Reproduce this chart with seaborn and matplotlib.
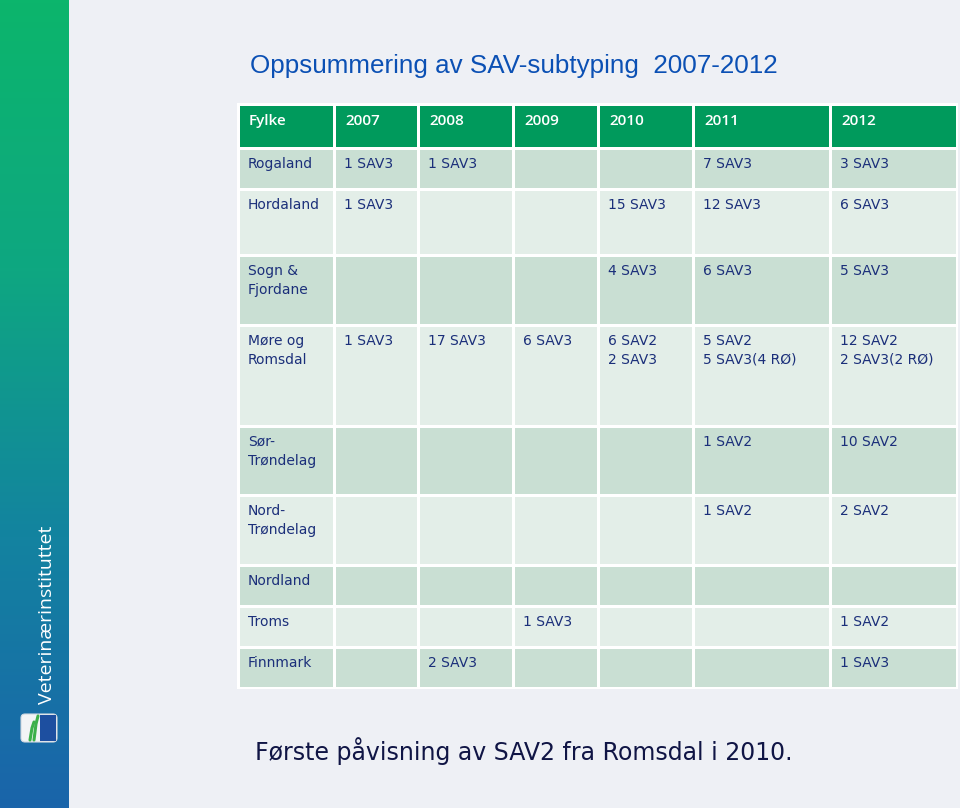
import numpy as np
import matplotlib
matplotlib.use("Agg")
import matplotlib.pyplot as plt
import seaborn as sns
from matplotlib.patches import Rectangle, FancyBboxPatch

sns.set_theme(style="white")
plt.rcParams['font.family'] = ['DejaVu Sans']

# table content
header = ["Fylke", "2007", "2008", "2009", "2010", "2011", "2012"]
fylke = ["Rogaland", "Hordaland", "Sogn &\nFjordane", "Møre og\nRomsdal", "Sør-\nTrøndelag",
         "Nord-\nTrøndelag", "Nordland", "Troms", "Finnmark"]
rogaland = ["1 SAV3", "1 SAV3", "", "", "7 SAV3", "3 SAV3"]
hordaland = ["1 SAV3", "", "", "15 SAV3", "12 SAV3", "6 SAV3"]
sogn_fjordane = ["", "", "", "4 SAV3", "6 SAV3", "5 SAV3"]
more_romsdal = ["1 SAV3", "17 SAV3", "6 SAV3", "6 SAV2\n2 SAV3", "5 SAV2\n5 SAV3(4 RØ)", "12 SAV2\n2 SAV3(2 RØ)"]
sor_trondelag = ["", "", "", "", "1 SAV2", "10 SAV2"]
nord_trondelag = ["", "", "", "", "1 SAV2", "2 SAV2"]
nordland = ["", "", "", "", "", ""]
troms = ["", "", "1 SAV3", "", "", "1 SAV2"]
finnmark = ["", "2 SAV3", "", "", "", "1 SAV3"]
rows = [rogaland, hordaland, sogn_fjordane, more_romsdal, sor_trondelag,
        nord_trondelag, nordland, troms, finnmark]

title = "Oppsummering av SAV-subtyping  2007-2012"
note = "Første påvisning av SAV2 fra Romsdal i 2010."

# layout (pixels)
col_edges = [238, 334, 418, 513, 598, 693, 830, 957]
row_edges = [104, 148, 189, 255, 325, 426, 495, 565, 606, 647, 688]

bg = "#eef0f5"
head_col = "#009a5c"
dark_row = "#c9dfd3"
light_row = "#e3eee8"
txt_col = "#1b2f7a"

fig = plt.figure(figsize=(9.6, 8.08), dpi=100)
fig.patch.set_facecolor(bg)
ax = fig.add_axes([0, 0, 1, 1])
ax.set_xlim(0, 960)
ax.set_ylim(808, 0)
ax.axis("off")

# sidebar gradient
grad = np.linspace(0, 1, 256)[:, None]
cmap = matplotlib.colors.LinearSegmentedColormap.from_list(
    "side", ["#0cb56c", "#0ea781", "#1383a0", "#1a64aa"])
ax.imshow(grad, extent=[0, 69, 808, 0], cmap=cmap, aspect="auto", zorder=0)
ax.text(47, 615, "Veterinærinstituttet", rotation=90, color="white", fontsize=14,
        ha="center", va="center", family=["Open Sans", "DejaVu Sans"])
ax.add_patch(FancyBboxPatch((21, 714), 36, 28, boxstyle="round,pad=0,rounding_size=4",
                            fc="#f2f4f6", ec="#d0d8e0", lw=0.8, zorder=2))
ax.add_patch(Rectangle((40, 715), 16, 26, fc="#1d4fa0", ec="none", zorder=3))
ax.plot([34, 36, 38], [740, 724, 716], color="#3cb04a", lw=2.2, zorder=4)
ax.plot([30, 32, 34], [740, 728, 722], color="#3cb04a", lw=2.2, zorder=4)

# table background (white grid)
ax.add_patch(Rectangle((col_edges[0] - 1, row_edges[0] - 1), col_edges[-1] - col_edges[0] + 2,
                       row_edges[-1] - row_edges[0] + 2, fc="white", ec="none", zorder=1))
g = 1.5
for r in range(len(row_edges) - 1):
    y0, y1 = row_edges[r], row_edges[r + 1]
    if r == 0:
        fc = head_col
    else:
        fc = dark_row if r % 2 == 1 else light_row
    for c in range(len(col_edges) - 1):
        x0, x1 = col_edges[c], col_edges[c + 1]
        ax.add_patch(Rectangle((x0 + g, y0 + g), x1 - x0 - 2 * g, y1 - y0 - 2 * g,
                               fc=fc, ec="none", zorder=2))
        if r == 0:
            ax.text(x0 + 11, y0 + 17, header[c], color="white", fontsize=11,
                    fontweight="semibold", ha="left", va="center", zorder=3,
                    family=["Open Sans", "DejaVu Sans"])
        else:
            s = fylke[r - 1] if c == 0 else rows[r - 1][c - 1]
            if s:
                ax.text(x0 + 10, y0 + 9, s, color=txt_col, fontsize=10, ha="left", va="top",
                        linespacing=1.45, zorder=3)

ax.text(250, 66, title, color="#0b50b4", fontsize=18.7, ha="left", va="center",
        family=["Liberation Sans", "DejaVu Sans"])
ax.text(255, 751, note, color="#101545", fontsize=17, ha="left", va="center")

fig.savefig("out.png", dpi=100, facecolor=bg)
